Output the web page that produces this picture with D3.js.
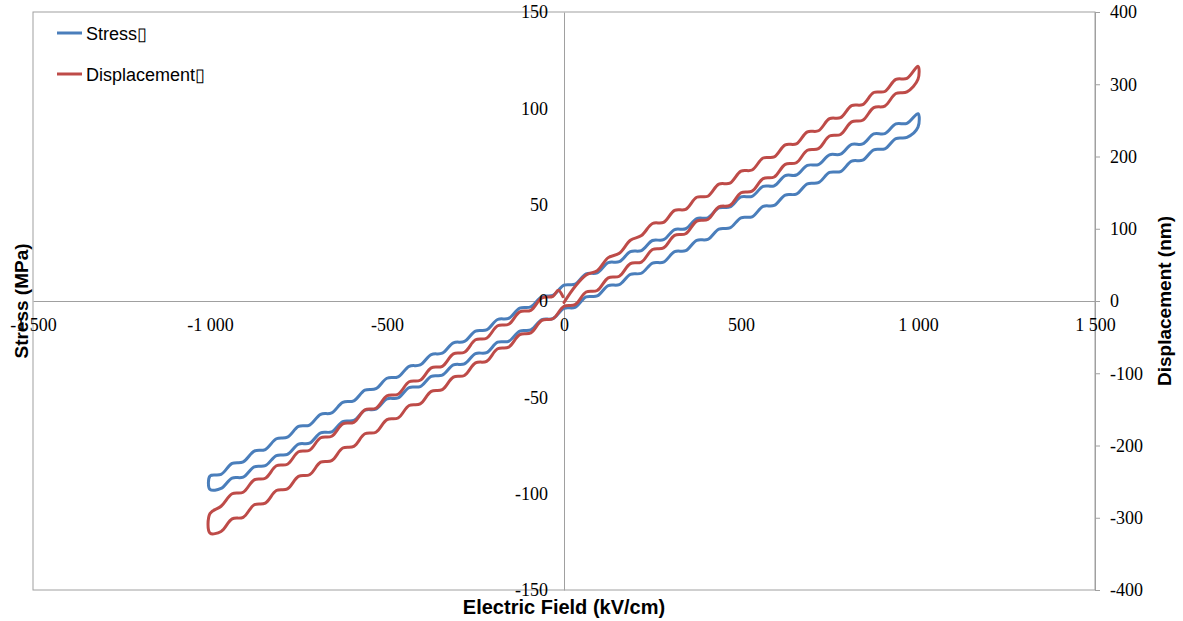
<!DOCTYPE html>
<html><head><meta charset="utf-8">
<script src="https://cdn.jsdelivr.net/npm/d3@7"></script>
<style>html,body{margin:0;padding:0;background:#fff;} svg{display:block;}</style>
</head><body><svg id="chart" width="1183" height="621"></svg>
<script>
// ---- data ----
const fieldTicks = [-1500, -1000, -500, 0, 500, 1000, 1500];
const stressTicks = [-150, -100, -50, 0, 50, 100, 150];
const dispTicks = [-400, -300, -200, -100, 0, 100, 200, 300, 400];
const seriesNames = ["Stress\u25AF", "Displacement\u25AF"];
const axisTitles = ["Electric Field (kV/cm)", "Stress (MPa)", "Displacement (nm)"];

const field = [-1000, -968.75, -937.5, -906.25, -875, -843.75, -812.5, -781.25, -750, -718.75,
  -687.5, -656.25, -625, -593.75, -562.5, -531.25, -500, -468.75, -437.5, -406.25,
  -375, -343.75, -312.5, -281.25, -250, -218.75, -187.5, -156.25, -125, -93.75,
  -62.5, -31.25, 0, 31.25, 62.5, 93.75, 125, 156.25, 187.5, 218.75,
  250, 281.25, 312.5, 343.75, 375, 406.25, 437.5, 468.75, 500, 531.25,
  562.5, 593.75, 625, 656.25, 687.5, 718.75, 750, 781.25, 812.5, 843.75,
  875, 906.25, 937.5, 968.75, 1000];

const stressUpper = [-90.8, -90.0, -84.3, -83.5, -77.9, -77.1, -71.5, -70.7, -65.1, -64.4,
  -58.8, -58.1, -52.6, -51.8, -46.3, -45.5, -40.1, -39.4, -33.9, -33.2,
  -27.8, -27.1, -21.7, -21.0, -15.6, -15.0, -9.6, -9.0, -3.7, -3.0,
  2.3, 2.9, 8.2, 8.7, 14.1, 14.6, 19.9, 20.4, 25.6, 26.2,
  31.4, 31.8, 37.1, 37.5, 42.8, 43.2, 48.3, 48.8, 54.0, 54.3,
  59.5, 59.8, 65.1, 65.4, 70.4, 70.8, 75.9, 76.2, 81.3, 81.5,
  86.7, 86.9, 91.9, 92.2, 97.2];

const stressLower = [-97.8, -97.3, -91.9, -91.4, -86.1, -85.5, -80.2, -79.6, -74.3, -73.8,
  -68.4, -67.9, -62.6, -62.0, -56.7, -56.1, -50.8, -50.3, -44.9, -44.4,
  -39.1, -38.5, -33.2, -32.6, -27.3, -26.8, -21.4, -20.9, -15.6, -15.0,
  -9.7, -9.1, -3.8, -3.3, 2.1, 2.6, 8.0, 8.5, 13.8, 14.4,
  19.7, 20.2, 25.6, 26.1, 31.5, 32.0, 37.3, 37.9, 43.2, 43.7,
  49.1, 49.6, 55.0, 55.5, 60.8, 61.4, 66.7, 67.2, 72.6, 73.1,
  78.5, 79.0, 84.3, 84.9, 90.2];

const dispUpper = [-294, -284.1, -266.8, -264.7, -247.5, -245.4, -228.1, -226.0, -208.7, -206.6,
  -189.3, -187.2, -170.0, -167.9, -150.6, -148.5, -131.2, -129.1, -111.8, -109.7,
  -92.5, -90.4, -73.1, -71.0, -53.7, -51.6, -34.3, -32.2, -15.0, -12.9,
  4.4, 6.5, -2, 20, 36, 42, 60, 66, 84, 90.6,
  107.3, 108.8, 125.4, 126.9, 143.6, 145.0, 161.7, 163.1, 179.8, 181.3,
  197.9, 199.4, 216.1, 217.5, 234.2, 235.6, 252.3, 253.8, 270.4, 271.9,
  288.6, 290.0, 306.7, 308.1, 324.8];

const dispLower = [-321.2, -319.0, -301.6, -299.4, -282.0, -279.7, -262.3, -260.1, -242.7, -240.5,
  -223.1, -220.9, -203.5, -201.2, -183.8, -181.6, -164.2, -162.0, -144.6, -142.4,
  -125.0, -122.7, -105.3, -103.1, -85.7, -83.5, -66.1, -63.9, -46.5, -44.2,
  -26.8, -24.6, -7.2, -5.0, 12.4, 14.6, 32.1, 34.3, 51.7, 53.9,
  71.3, 73.5, 90.9, 93.1, 110.6, 112.8, 130.2, 132.4, 149.8, 152.0,
  169.4, 171.6, 189.1, 191.3, 208.7, 210.9, 228.3, 230.5, 247.9, 250.1,
  267.6, 269.8, 287.2, 289.4, 306.8];

// end of the displacement record (just before returning to zero field)
const dispEndField = [-16, -3];
const dispEndValue = [15, 6];

const colors = ["#4a7ebb", "#be4b48"];

// ---- layout ----
const svg = d3.select("#chart");
const plot = {left: 33, right: 1095, top: 12, bottom: 590};
const x = d3.scaleLinear().domain([-1500, 1500]).range([plot.left, plot.right]);
const yS = d3.scaleLinear().domain([-150, 150]).range([plot.bottom, plot.top]);
const yD = d3.scaleLinear().domain([-400, 400]).range([plot.bottom, plot.top]);

const loc = d3.formatLocale({decimal: ".", thousands: " ", grouping: [3], currency: ["", ""], minus: "-"});
const fmt = loc.format(",");

const gridColor = "#a0a0a0";
const serif = "'Liberation Serif', 'Times New Roman', serif";
const sans = "'Liberation Sans', Arial, sans-serif";

// plot frame
svg.append("rect")
  .attr("x", plot.left).attr("y", plot.top)
  .attr("width", plot.right - plot.left).attr("height", plot.bottom - plot.top)
  .attr("fill", "none").attr("stroke", gridColor).attr("stroke-width", 1);

// axes: lines pass
function styleLines(g) {
  g.selectAll(".domain, .tick line").attr("stroke", gridColor).attr("stroke-width", 1);
  g.selectAll("text").remove();
}
const xAxis = d3.axisBottom(x).tickValues(fieldTicks).tickSize(0).tickPadding(17).tickFormat(fmt);
const yLAxis = d3.axisLeft(yS).tickValues(stressTicks).tickSize(0).tickPadding(16).tickFormat(fmt);
const yRAxis = d3.axisRight(yD).tickValues(dispTicks).tickSizeInner(5).tickSizeOuter(5).tickPadding(10).tickFormat(fmt);

svg.append("g").attr("transform", `translate(0,${yS(0)})`).call(xAxis).call(styleLines);
svg.append("g").attr("transform", `translate(${x(0)},0)`).call(yLAxis).call(styleLines);
svg.append("g").attr("transform", `translate(${plot.right},0)`).call(yRAxis).call(styleLines);

// ---- series ----
const stressLoop = field.map((f, i) => [f, stressUpper[i]])
  .concat(field.map((f, i) => [f, stressLower[i]]).reverse());

const dispPath = [];
for (let i = 32; i < field.length; i++) dispPath.push([field[i], dispUpper[i]]);
for (let i = field.length - 1; i >= 0; i--) dispPath.push([field[i], dispLower[i]]);
for (let i = 0; i < 32; i++) dispPath.push([field[i], dispUpper[i]]);
dispEndField.forEach((f, j) => dispPath.push([f, dispEndValue[j]]));

svg.append("path")
  .attr("d", d3.line().x(d => x(d[0])).y(d => yS(d[1])).curve(d3.curveCatmullRomClosed.alpha(0.5))(stressLoop))
  .attr("fill", "none").attr("stroke", colors[0]).attr("stroke-width", 3).attr("stroke-linejoin", "round");

svg.append("path")
  .attr("d", d3.line().x(d => x(d[0])).y(d => yD(d[1])).curve(d3.curveCatmullRom.alpha(0.5))(dispPath))
  .attr("fill", "none").attr("stroke", colors[1]).attr("stroke-width", 3).attr("stroke-linejoin", "round").attr("stroke-linecap", "round");

// axes: labels pass (on top)
function styleLabels(g) {
  g.selectAll(".domain, .tick line").remove();
  g.selectAll("text").attr("font-family", serif).attr("font-size", 18).attr("fill", "#000");
}
svg.append("g").attr("transform", `translate(0,${yS(0)})`).call(xAxis).call(styleLabels)
  .attr("font-family", null).attr("font-size", null);
svg.append("g").attr("transform", `translate(${x(0)},0)`).call(yLAxis).call(styleLabels);
svg.append("g").attr("transform", `translate(${plot.right},0)`).call(yRAxis).call(styleLabels);

// ---- axis titles ----
svg.append("text").text(axisTitles[0])
  .attr("x", x(0)).attr("y", 614).attr("text-anchor", "middle")
  .attr("font-family", sans).attr("font-weight", "bold").attr("font-size", 20);
svg.append("text").text(axisTitles[1])
  .attr("transform", `translate(28,${yS(0)}) rotate(-90)`).attr("text-anchor", "middle")
  .attr("font-family", sans).attr("font-weight", "bold").attr("font-size", 19);
svg.append("text").text(axisTitles[2])
  .attr("transform", `translate(1171,${yS(0)}) rotate(-90)`).attr("text-anchor", "middle")
  .attr("font-family", sans).attr("font-weight", "bold").attr("font-size", 19);

// ---- legend ----
const legend = svg.append("g");
seriesNames.forEach((name, i) => {
  const ly = 33 + i * 41;
  legend.append("line").attr("x1", 57).attr("x2", 82).attr("y1", ly).attr("y2", ly)
    .attr("stroke", colors[i]).attr("stroke-width", 3);
  legend.append("text").text(name).attr("x", 86).attr("y", ly + 6.5)
    .attr("font-family", sans).attr("font-size", 18).attr("fill", "#000");
});
</script>
</body></html>
